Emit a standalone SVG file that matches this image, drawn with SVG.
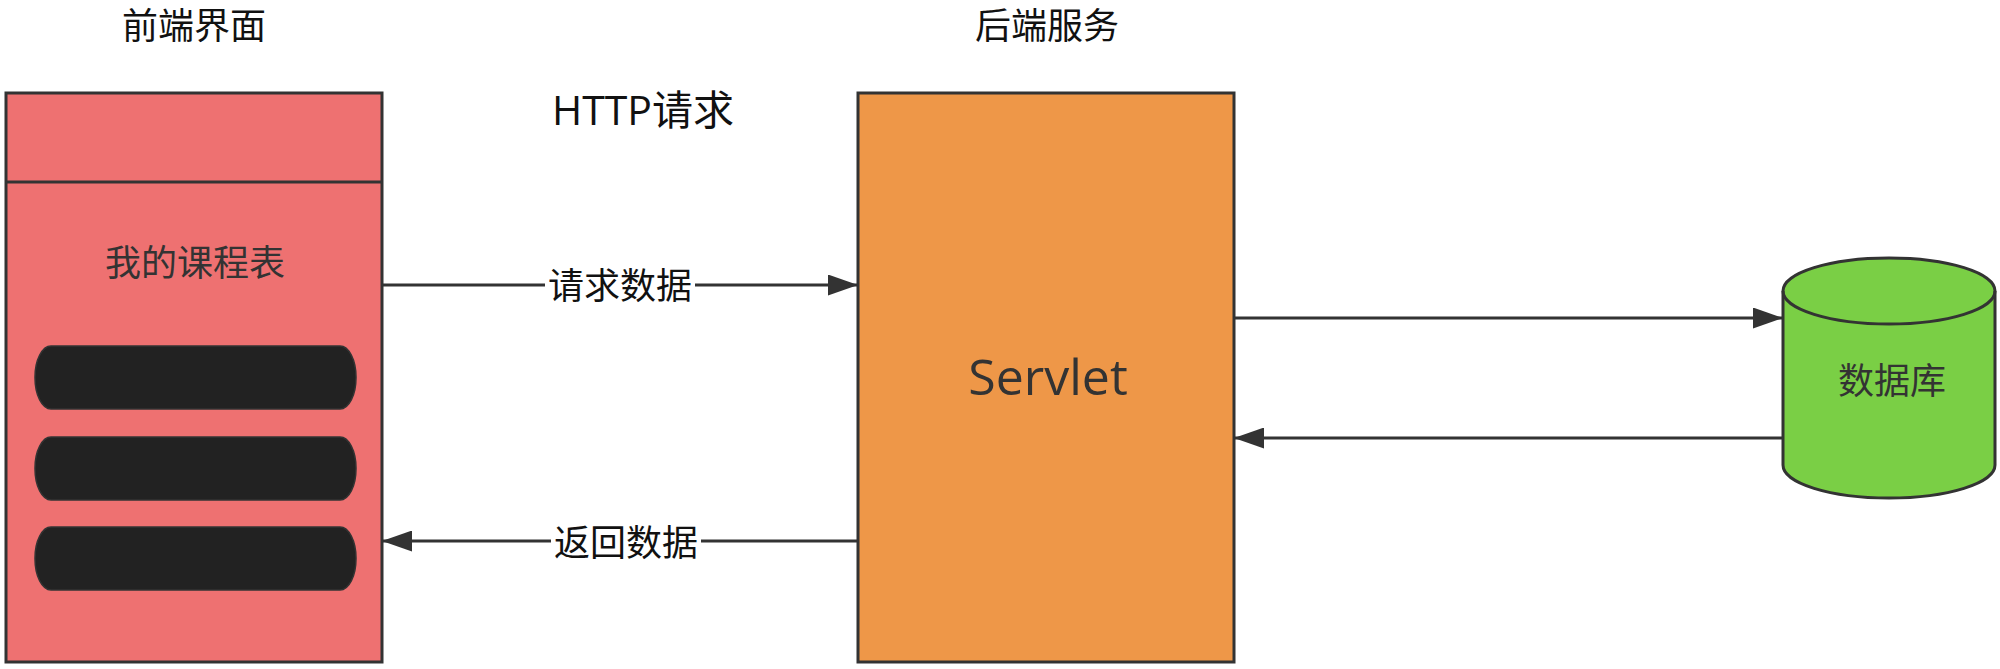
<svg xmlns="http://www.w3.org/2000/svg" width="2000" height="669" viewBox="0 0 2000 669">
<style>
.cjk{font-family:"Noto Sans CJK SC","Open Sans",sans-serif;}
.lat{font-family:"Open Sans","Noto Sans CJK SC",sans-serif;}
.title{font-size:36px;fill:#111;text-anchor:middle;}
.lbl{font-size:36px;fill:#333;text-anchor:middle;}
.edge{font-size:36px;fill:#111;text-anchor:middle;}
.box{stroke:#333;stroke-width:3;}
.conn{stroke:#333;stroke-width:3;fill:none;}
.pill{fill:#222;stroke:#333;stroke-width:1.5;}
</style>
<defs>
<marker id="arr" markerUnits="userSpaceOnUse" markerWidth="30" markerHeight="21" refX="30" refY="10.5" orient="auto">
<path d="M0,0 L30,10.5 L0,21 Z" fill="#333"/>
</marker>
</defs>

<g id="title-front"><text class="cjk title" x="194" y="39">前端界面</text></g>
<g id="title-back"><text class="cjk title" x="1047" y="39">后端服务</text></g>

<g id="http-label">
<rect x="488" y="75" width="300" height="67" fill="#fff"/>
<text class="lat" x="643" y="125" font-size="41" fill="#111" text-anchor="middle">HTTP<tspan class="cjk">请求</tspan></text>
</g>

<g id="frontend">
<rect class="box" x="6" y="93" width="376" height="569" fill="#EE7171"/>
<line class="box" x1="6" y1="182" x2="382" y2="182"/>
<text class="cjk lbl" x="195" y="276">我的课程表</text>
<rect class="pill" x="35" y="346" width="321" height="63" rx="16" ry="31"/>
<rect class="pill" x="35" y="437" width="321" height="63" rx="16" ry="31"/>
<rect class="pill" x="35" y="527" width="321" height="63" rx="16" ry="31"/>
</g>

<g id="servlet">
<rect class="box" x="858" y="93" width="376" height="569" fill="#EE9748"/>
<text class="lat" x="1048" y="395" font-size="50" fill="#333" text-anchor="middle">Servlet</text>
</g>

<g id="database">
<path class="box" d="M1783,291 A106,33 0 0 1 1995,291 L1995,465 A106,33 0 0 1 1783,465 Z" fill="#7ACF45"/>
<path class="box" d="M1783,291 A106,33 0 0 0 1995,291" fill="none"/>
<text class="cjk lbl" x="1892" y="394">数据库</text>
</g>

<g id="connectors">
<line class="conn" x1="382" y1="285" x2="858" y2="285" marker-end="url(#arr)"/>
<rect x="545" y="266" width="150" height="38" fill="#fff"/>
<text class="cjk edge" x="620" y="299">请求数据</text>
<line class="conn" x1="858" y1="541" x2="382" y2="541" marker-end="url(#arr)"/>
<rect x="551" y="523" width="150" height="38" fill="#fff"/>
<text class="cjk edge" x="626" y="556">返回数据</text>
<line class="conn" x1="1234" y1="318" x2="1783" y2="318" marker-end="url(#arr)"/>
<line class="conn" x1="1783" y1="438" x2="1234" y2="438" marker-end="url(#arr)"/>
</g>
</svg>
